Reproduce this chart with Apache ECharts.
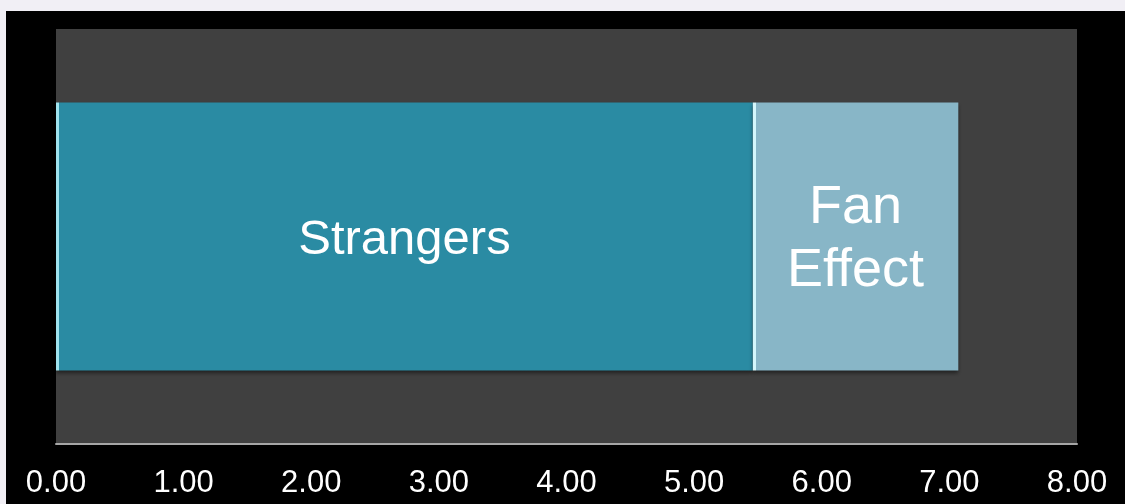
<!DOCTYPE html>
<html>
<head>
<meta charset="utf-8">
<script src="https://cdn.jsdelivr.net/npm/echarts@6/dist/echarts.min.js"></script>
<style>
html,body{margin:0;padding:0;width:1125px;height:504px;overflow:hidden;background:#f1eff5;}
#chart{position:absolute;left:6px;top:11px;width:1119px;height:493px;background:#000;}
</style>
</head>
<body>
<div id="chart"></div>
<script>
const categories = ['Audience'];
const seriesNames = ['Strangers', 'Fan\nEffect'];
const strangers = [5.46];
const fanEffect = [1.61];
const tickMin = 0, tickMax = 8, tickStep = 1;

const chart = echarts.init(document.getElementById('chart'));

function edgeGrad(base, light, frac) {
  return {
    type: 'linear', x: 0, y: 0, x2: 1, y2: 0,
    colorStops: [
      {offset: 0, color: light},
      {offset: frac, color: light},
      {offset: frac + 0.0001, color: base},
      {offset: 1, color: base}
    ]
  };
}

chart.setOption({
  backgroundColor: '#000',
  animation: false,
  grid: {left: 50, right: 48, top: 18, bottom: 60, containLabel: false,
         show: true, backgroundColor: '#404040', borderWidth: 0},
  xAxis: {
    type: 'value', min: tickMin, max: tickMax, interval: tickStep,
    axisLine: {show: true, lineStyle: {color: '#a6a6a6', width: 2}},
    axisTick: {show: false},
    splitLine: {show: false},
    axisLabel: {color: '#fff', fontSize: 31, fontFamily: 'Liberation Sans, Arial, sans-serif',
                margin: 24, formatter: v => v.toFixed(2)}
  },
  yAxis: {
    type: 'category', data: categories,
    axisLine: {show: false}, axisTick: {show: false}, axisLabel: {show: false}, splitLine: {show: false}
  },
  series: [
    {
      name: seriesNames[0], type: 'bar', stack: 'total', data: strangers, barWidth: 268,
      itemStyle: {color: edgeGrad('#2a8ba3', '#9fe3ee', 0.004),
                  shadowColor: 'rgba(0,0,0,0.5)', shadowBlur: 4, shadowOffsetY: 2},
      label: {show: true, position: 'inside', formatter: seriesNames[0], color: '#fff',
              fontSize: 49, offset: [0, 4], fontFamily: 'Liberation Sans, Arial, sans-serif'}
    },
    {
      name: seriesNames[1], type: 'bar', stack: 'total', data: fanEffect, barWidth: 268,
      itemStyle: {color: edgeGrad('#88b6c7', '#d4f6fb', 0.014),
                  shadowColor: 'rgba(0,0,0,0.5)', shadowBlur: 4, shadowOffsetY: 2},
      label: {show: true, position: 'inside', formatter: seriesNames[1], color: '#fff',
              fontSize: 54, lineHeight: 63, offset: [0, 3], fontFamily: 'Liberation Sans, Arial, sans-serif'}
    }
  ]
});
</script>
</body>
</html>
